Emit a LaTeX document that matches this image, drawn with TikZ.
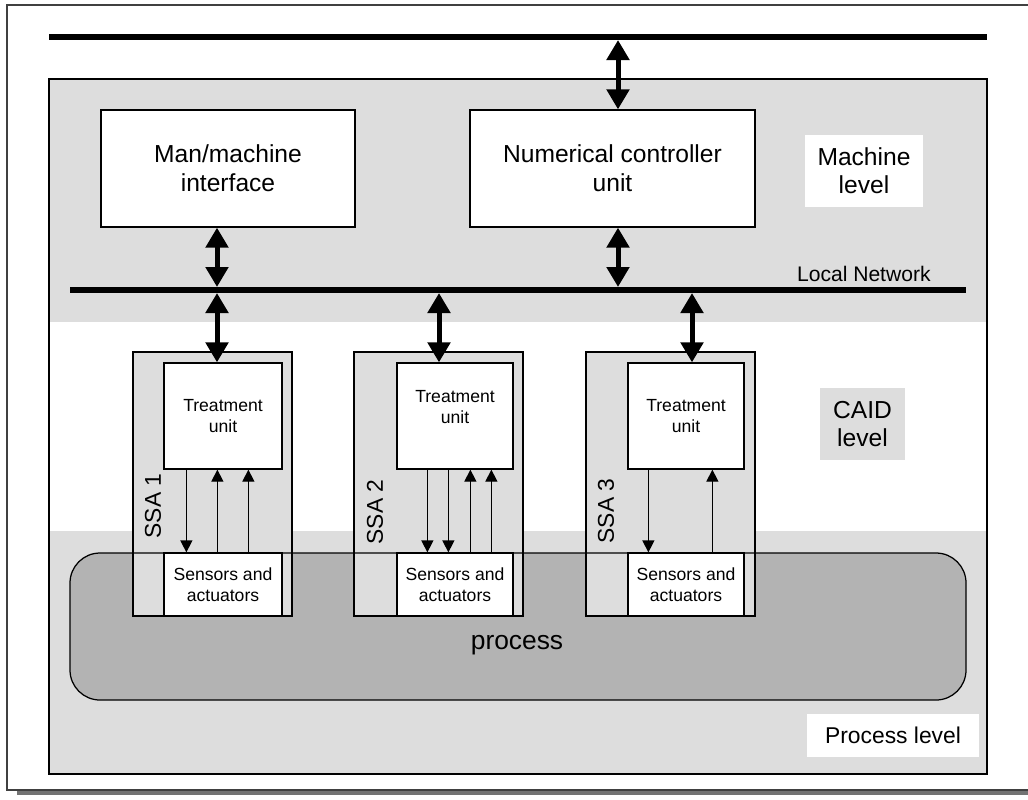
\documentclass[tikz,border=0pt]{standalone}
\usepackage{fontspec}
\setmainfont{Liberation Sans}
\usetikzlibrary{arrows.meta}

\definecolor{cinzaclaro}{RGB}{221,221,221}
\definecolor{cinzaescuro}{RGB}{179,179,179}

\begin{document}
\begin{tikzpicture}[x=0.2mm,y=-0.2mm,
  caixa/.style={draw,fill=white,line width=0.25mm,align=center,inner sep=0pt},
  ssa/.style={draw,fill=cinzaclaro,line width=0.25mm,inner sep=0pt,minimum height=52.8mm},
  nivel/.style={align=center,inner sep=0pt,font=\fontsize{14pt}{16pt}\selectfont},
  grande/.style={font=\fontsize{14pt}{16.5pt}\selectfont},
  pequena/.style={font=\fontsize{10pt}{12pt}\selectfont},
  rotulo/.style={rotate=90,inner sep=0pt,font=\fontsize{13pt}{13pt}\selectfont},
  barra/.style={line width=1.2mm},
  grossa/.style={line width=1mm,{Triangle[length=4mm,width=4.4mm]}-{Triangle[length=4mm,width=4.4mm]}},
  fina/.style={line width=0.25mm,-{Triangle[length=2.4mm,width=2.4mm]}}
]
  \useasboundingbox (0,0) rectangle (1028,799);

  %moldura
  \draw[line width=0.25mm,black!75] (1040,5) -- (7,5) -- (7,790) -- (1040,790);
  \draw[line width=0.7mm,black!55] (17,793) -- (1040,793);

  %fundo dos niveis
  \fill[cinzaclaro] (49,79) rectangle (987,774);
  \fill[white] (49,322) rectangle (987,531);
  \draw[line width=0.25mm] (49,79) rectangle (987,774);

  %barramentos
  \coordinate (b1w) at (49,37);
  \coordinate (b1e) at (987,37);
  \coordinate (b2w) at (70,290);
  \coordinate (b2e) at (966,290);
  \draw[barra] (b1w) -- (b1e);

  %processo
  \fill[cinzaescuro,rounded corners=6mm] (70,553) rectangle (966,700);
  \node[font=\fontsize{15pt}{15pt}\selectfont] (proc) at (517,645) {process};

  %nivel maquina
  \node[caixa,grande,minimum width=50.8mm,minimum height=23.4mm] (ihm) at (228,168.5) {Man/machine\\interface};
  \node[caixa,grande,minimum width=57mm,minimum height=23.4mm] (ucn) at (612.5,168.5) {Numerical controller\\unit};
  \node[nivel,fill=white,minimum width=23.6mm,minimum height=14.4mm] (lmaq) at (864,171) {Machine\\level};
  \node[nivel,fill=cinzaclaro,minimum width=17mm,minimum height=14.4mm] (lcaid) at (862.5,424) {CAID\\level};
  \node[nivel,fill=white,minimum width=34.4mm,minimum height=8.6mm,font=\fontsize{13pt}{13pt}\selectfont] (lproc) at (893,735.5) {Process level};

  \draw[barra] (b2w) -- (b2e);
  \node[anchor=base east,inner sep=0pt,font=\fontsize{12pt}{12pt}\selectfont] (lrede) at (931,281) {Local Network};

  %SSA
  \node[ssa,minimum width=31.8mm] (ssa1) at (212.5,484) {};
  \node[ssa,minimum width=33.8mm] (ssa2) at (438.5,484) {};
  \node[ssa,minimum width=33.8mm] (ssa3) at (670.5,484) {};
  \node[rotulo] (r1) at (153,506) {SSA 1};
  \node[rotulo] (r2) at (375,512) {SSA 2};
  \node[rotulo] (r3) at (606,511) {SSA 3};

  \node[caixa,pequena,minimum width=23.6mm,minimum height=21.2mm] (trat1) at (223,416) {Treatment\\unit};
  \node[caixa,pequena,minimum width=23.2mm,minimum height=21.2mm] (trat2) at (455,416) {Treatment\\unit\\[-2pt]};
  \node[caixa,pequena,minimum width=23.2mm,minimum height=21.2mm] (trat3) at (686,416) {Treatment\\unit};
  \node[caixa,pequena,minimum width=23.6mm,minimum height=12.6mm] (sens1) at (223,584.5) {Sensors and\\actuators};
  \node[caixa,pequena,minimum width=23.2mm,minimum height=12.6mm] (sens2) at (455,584.5) {Sensors and\\actuators};
  \node[caixa,pequena,minimum width=23.2mm,minimum height=12.6mm] (sens3) at (686,584.5) {Sensors and\\actuators};

  \draw[line width=0.25mm,rounded corners=6mm] (70,553) rectangle (966,700);

  %setas grossas
  \coordinate (xa) at (618,0);
  \coordinate (x1) at (217,0);
  \coordinate (x2) at (439,0);
  \coordinate (x3) at (692,0);
  \draw[grossa,shorten <=0.6mm] (b1w -| xa) -- (ucn.north -| xa);
  \draw[grossa,shorten >=0.6mm] (ucn.south -| xa) -- (b2w -| xa);
  \draw[grossa,shorten >=0.6mm] (ihm.south -| x1) -- (b2w -| x1);
  \draw[grossa,shorten <=0.6mm] (b2w -| x1) -- (trat1.north -| x1);
  \draw[grossa,shorten <=0.6mm] (b2w -| x2) -- (trat2.north -| x2);
  \draw[grossa,shorten <=0.6mm] (b2w -| x3) -- (trat3.north -| x3);

  %setas finas
  \foreach \d in {4.6}
    \draw[fina] ([xshift=\d mm]trat1.south west) -- ([xshift=\d mm]sens1.north west);
  \foreach \d in {10.8,17}
    \draw[fina] ([xshift=\d mm]sens1.north west) -- ([xshift=\d mm]trat1.south west);
  \foreach \d in {6.2,10.4}
    \draw[fina] ([xshift=\d mm]trat2.south west) -- ([xshift=\d mm]sens2.north west);
  \foreach \d in {14.8,19}
    \draw[fina] ([xshift=\d mm]sens2.north west) -- ([xshift=\d mm]trat2.south west);
  \draw[fina] ([xshift=4.2mm]trat3.south west) -- ([xshift=4.2mm]sens3.north west);
  \draw[fina] ([xshift=17mm]sens3.north west) -- ([xshift=17mm]trat3.south west);

\end{tikzpicture}
\end{document}
